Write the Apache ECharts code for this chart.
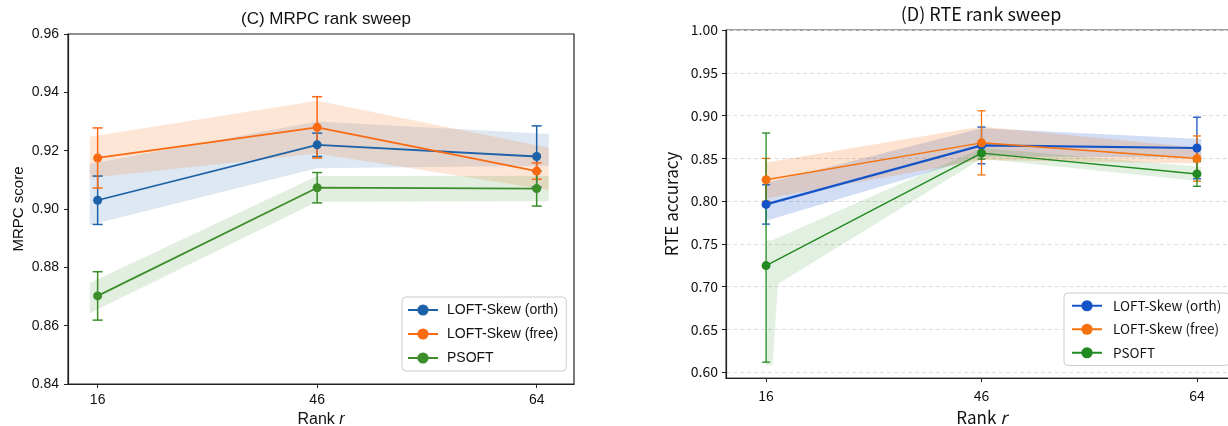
<!DOCTYPE html>
<html>
<head>
<meta charset="utf-8">
<script src="https://cdn.jsdelivr.net/npm/echarts@6/dist/echarts.min.js"></script>
<style>
  body { margin: 0; background: #fff; overflow: hidden; }
  #wrap { position: relative; width: 1228px; height: 426px; overflow: hidden; }
  #left { position: absolute; left: 0; top: 0; width: 614px; height: 426px; }
  #right { position: absolute; left: 614px; top: 0; width: 632px; height: 426px; }
</style>
</head>
<body>
<div id="wrap"><div id="left"></div><div id="right"></div></div>
<script>
var ranks = ['16', '46', '64'];
var names = ['LOFT-Skew (orth)', 'LOFT-Skew (free)', 'PSOFT'];

// (C) MRPC rank sweep
var mrpcOrth = [0.903, 0.922, 0.918];
var mrpcOrthErr = [0.0083, 0.004, 0.0105];
var mrpcOrthLo = [0.8945, 0.914, 0.9148];
var mrpcOrthHi = [0.9154, 0.930, 0.9257];
var mrpcFree = [0.9175, 0.928, 0.913];
var mrpcFreeErr = [0.0103, 0.0105, 0.0028];
var mrpcFreeLo = [0.9106, 0.919, 0.9065];
var mrpcFreeHi = [0.9248, 0.9371, 0.921];
var mrpcPsoft = [0.8702, 0.9073, 0.907];
var mrpcPsoftErr = [0.0083, 0.0052, 0.006];
var mrpcPsoftLo = [0.8643, 0.9025, 0.9027];
var mrpcPsoftHi = [0.8746, 0.9113, 0.9114];
var mrpcBandX = [-0.036, 1, 2.055];
var mrpcTicks = [0.84, 0.86, 0.88, 0.90, 0.92, 0.94, 0.96];

// (D) RTE rank sweep
var rteOrth = [0.796, 0.865, 0.862];
var rteOrthErrDown = [0.023, 0.0215, 0.036];
var rteOrthErrUp = [0.023, 0.0215, 0.036];
var rteOrthLo = [0.777, 0.852, 0.851];
var rteOrthHi = [0.821, 0.885, 0.8725];
var rteFree = [0.8248, 0.868, 0.8496];
var rteFreeErrDown = [0.025, 0.0375, 0.0265];
var rteFreeErrUp = [0.025, 0.0375, 0.0265];
var rteFreeLo = [0.803, 0.848, 0.844];
var rteFreeHi = [0.845, 0.887, 0.862];
var rtePsoft = [0.7245, 0.856, 0.8317];
var rtePsoftErrDown = [0.113, 0.007, 0.0145];
var rtePsoftErrUp = [0.155, 0.007, 0.0145];
var rteBandX = [0, 1, 2.02];
var rtePsoftBandX = [0, 0.03, 0.055, 1, 2.02];
var rtePsoftLo = [0.608, 0.608, 0.703, 0.8495, 0.823];
var rtePsoftHi = [0.754, 0.754, 0.757, 0.862, 0.840];
var rteTicks = [0.60, 0.65, 0.70, 0.75, 0.80, 0.85, 0.90, 0.95, 1.00];

var leftColors = ['#1d62a8', '#fa6a12', '#3b8e2a'];
var rightColors = ['#1554c8', '#f5720f', '#218a21'];

function bandSeries(xs, lo, hi, color, opacity) {
  return {
    type: 'custom', silent: true, z: 1,
    data: [[xs[0], lo[0]]],
    renderItem: function (params, api) {
      var pts = [];
      for (var i = 0; i < xs.length; i++) pts.push(api.coord([xs[i], hi[i]]));
      for (var j = xs.length - 1; j >= 0; j--) pts.push(api.coord([xs[j], lo[j]]));
      return { type: 'polygon', shape: { points: pts }, style: { fill: color, opacity: opacity } };
    }
  };
}

function errSeries(vals, down, up, color, cap, width) {
  return {
    type: 'custom', silent: true, z: 2,
    data: vals.map(function (v, i) { return [i, v - down[i], v + up[i]]; }),
    encode: { x: 0, y: [1, 2] },
    renderItem: function (params, api) {
      var t = api.coord([api.value(0), api.value(2)]);
      var b = api.coord([api.value(0), api.value(1)]);
      var st = { stroke: color, lineWidth: width };
      return {
        type: 'group', children: [
          { type: 'line', shape: { x1: t[0], y1: t[1], x2: b[0], y2: b[1] }, style: st },
          { type: 'line', shape: { x1: t[0] - cap, y1: t[1], x2: t[0] + cap, y2: t[1] }, style: st },
          { type: 'line', shape: { x1: b[0] - cap, y1: b[1], x2: b[0] + cap, y2: b[1] }, style: st }
        ]
      };
    }
  };
}

function lineSeries(name, vals, color, width) {
  return {
    name: name, type: 'line', z: 3,
    data: vals.map(function (v, i) { return [i, v]; }),
    symbol: 'circle', symbolSize: 9,
    itemStyle: { color: color },
    lineStyle: { color: color, width: width },
    emphasis: { disabled: true }
  };
}

function legendData(colors) {
  return names.map(function (n, i) {
    return { name: n, itemStyle: { color: colors[i] }, lineStyle: { color: colors[i], width: 2 } };
  });
}

// ---------- left chart ----------
var fontL = 'Liberation Sans, Arial, sans-serif';
var left = echarts.init(document.getElementById('left'));
left.setOption({
  animation: false,
  title: {
    text: '(C) MRPC rank sweep', left: 321, top: 6, textAlign: 'center',
    textStyle: { fontFamily: fontL, fontSize: 17, fontWeight: 'normal', color: '#111' }
  },
  legend: {
    orient: 'vertical', left: 402, top: 297,
    data: legendData(leftColors),
    itemWidth: 30, itemHeight: 14, itemGap: 10,
    padding: [6, 8, 6, 5],
    borderColor: '#ccc', borderWidth: 1, borderRadius: 4,
    backgroundColor: 'rgba(255,255,255,0.85)',
    textStyle: { fontFamily: fontL, fontSize: 14, color: '#111', padding: [0, 0, 0, 4] }
  },
  grid: {
    left: 68, right: 40, top: 34, bottom: 42, outerBoundsMode: 'none',
    show: true, borderColor: '#222', borderWidth: 1.2
  },
  xAxis: {
    type: 'value', min: -0.135, max: 2.17,
    name: 'Rank {i|r}', nameLocation: 'middle', nameGap: 22,
    nameTextStyle: { fontFamily: fontL, fontSize: 16, color: '#111', rich: { i: { fontStyle: 'italic', fontFamily: fontL, fontSize: 16 } } },
    axisLine: { show: true, onZero: false, lineStyle: { color: '#222', width: 1.2 } },
    axisTick: { show: true, length: 4, customValues: [0, 1, 2], lineStyle: { color: '#222' } },
    axisLabel: {
      customValues: [0, 1, 2], fontFamily: fontL, fontSize: 14, color: '#111', margin: 9,
      formatter: function (v) { return ranks[Math.round(v)]; }
    },
    splitLine: { show: false }
  },
  yAxis: {
    type: 'value', min: 0.84, max: 0.96,
    name: 'MRPC score', nameLocation: 'middle', nameGap: 42, nameMoveOverlap: false,
    nameTextStyle: { fontFamily: fontL, fontSize: 15, color: '#111' },
    axisLine: { show: true, onZero: false, lineStyle: { color: '#222', width: 1.2 } },
    axisTick: { show: true, length: 4, customValues: mrpcTicks, lineStyle: { color: '#222' } },
    axisLabel: {
      customValues: mrpcTicks, fontFamily: fontL, fontSize: 14, color: '#111', margin: 9,
      formatter: function (v) { return v.toFixed(2); }
    },
    splitLine: { show: false }
  },
  series: [
    bandSeries(mrpcBandX, mrpcOrthLo, mrpcOrthHi, leftColors[0], 0.15),
    bandSeries(mrpcBandX, mrpcFreeLo, mrpcFreeHi, leftColors[1], 0.17),
    bandSeries(mrpcBandX, mrpcPsoftLo, mrpcPsoftHi, leftColors[2], 0.15),
    errSeries(mrpcOrth, mrpcOrthErr, mrpcOrthErr, leftColors[0], 5, 1.5),
    errSeries(mrpcFree, mrpcFreeErr, mrpcFreeErr, leftColors[1], 5, 1.5),
    errSeries(mrpcPsoft, mrpcPsoftErr, mrpcPsoftErr, leftColors[2], 5, 1.5),
    lineSeries(names[0], mrpcOrth, leftColors[0], 1.8),
    lineSeries(names[1], mrpcFree, leftColors[1], 1.8),
    lineSeries(names[2], mrpcPsoft, leftColors[2], 1.8)
  ]
});

// ---------- right chart ----------
var fontR = 'Noto Sans CJK JP, Noto Sans, sans-serif';
var right = echarts.init(document.getElementById('right'));
right.setOption({
  animation: false,
  title: {
    text: '(D) RTE rank sweep', left: 362, top: 0, textAlign: 'center',
    textStyle: { fontFamily: fontR, fontSize: 18, fontWeight: 'normal', color: '#111' }
  },
  legend: {
    orient: 'vertical', left: 450, top: 293,
    data: legendData(rightColors),
    itemWidth: 30, itemHeight: 14, itemGap: 10,
    padding: [6, 8, 6, 7],
    borderColor: '#ccc', borderWidth: 1, borderRadius: 4,
    backgroundColor: 'rgba(255,255,255,0.85)',
    textStyle: { fontFamily: fontR, fontSize: 13.5, color: '#111', padding: [0, 0, 0, 6] }
  },
  grid: {
    left: 112, right: 9, top: 30, bottom: 48, outerBoundsMode: 'none',
    show: true, borderColor: '#444', borderWidth: 1.2
  },
  xAxis: {
    type: 'value', min: -0.186, max: 2.186,
    name: 'Rank {i|r}', nameLocation: 'middle', nameGap: 31,
    nameTextStyle: { fontFamily: fontR, fontSize: 17, color: '#111', rich: { i: { fontStyle: 'italic', fontFamily: fontR, fontSize: 17 } } },
    axisLine: { show: true, onZero: false, lineStyle: { color: '#222', width: 1.2 } },
    axisTick: { show: true, length: 4, customValues: [0, 1, 2], lineStyle: { color: '#222' } },
    axisLabel: {
      customValues: [0, 1, 2], fontFamily: fontR, fontSize: 14, color: '#111', margin: 11,
      formatter: function (v) { return ranks[Math.round(v)]; }
    },
    splitLine: { show: false }
  },
  yAxis: {
    type: 'value', min: 0.593, max: 1.0,
    name: 'RTE accuracy', nameLocation: 'middle', nameGap: 44,
    nameTextStyle: { fontFamily: fontR, fontSize: 17, color: '#111' },
    axisLine: { show: true, onZero: false, lineStyle: { color: '#222', width: 1.2 } },
    axisTick: { show: true, length: 4, customValues: rteTicks, lineStyle: { color: '#222' } },
    axisLabel: {
      customValues: rteTicks, fontFamily: fontR, fontSize: 14, color: '#111', margin: 8,
      formatter: function (v) { return v.toFixed(2); }
    },
    splitLine: { show: true, lineStyle: { color: '#ddd', type: [4, 3], width: 1 } }
  },
  series: [
    bandSeries(rteBandX, rteOrthLo, rteOrthHi, rightColors[0], 0.2),
    bandSeries(rteBandX, rteFreeLo, rteFreeHi, rightColors[1], 0.2),
    bandSeries(rtePsoftBandX, rtePsoftLo, rtePsoftHi, rightColors[2], 0.13),
    errSeries(rteOrth, rteOrthErrDown, rteOrthErrUp, rightColors[0], 4, 1.3),
    errSeries(rteFree, rteFreeErrDown, rteFreeErrUp, rightColors[1], 4, 1.3),
    errSeries(rtePsoft, rtePsoftErrDown, rtePsoftErrUp, rightColors[2], 4, 1.3),
    lineSeries(names[0], rteOrth, rightColors[0], 2.2),
    lineSeries(names[1], rteFree, rightColors[1], 1.5),
    lineSeries(names[2], rtePsoft, rightColors[2], 1.5)
  ]
});
</script>
</body>
</html>
